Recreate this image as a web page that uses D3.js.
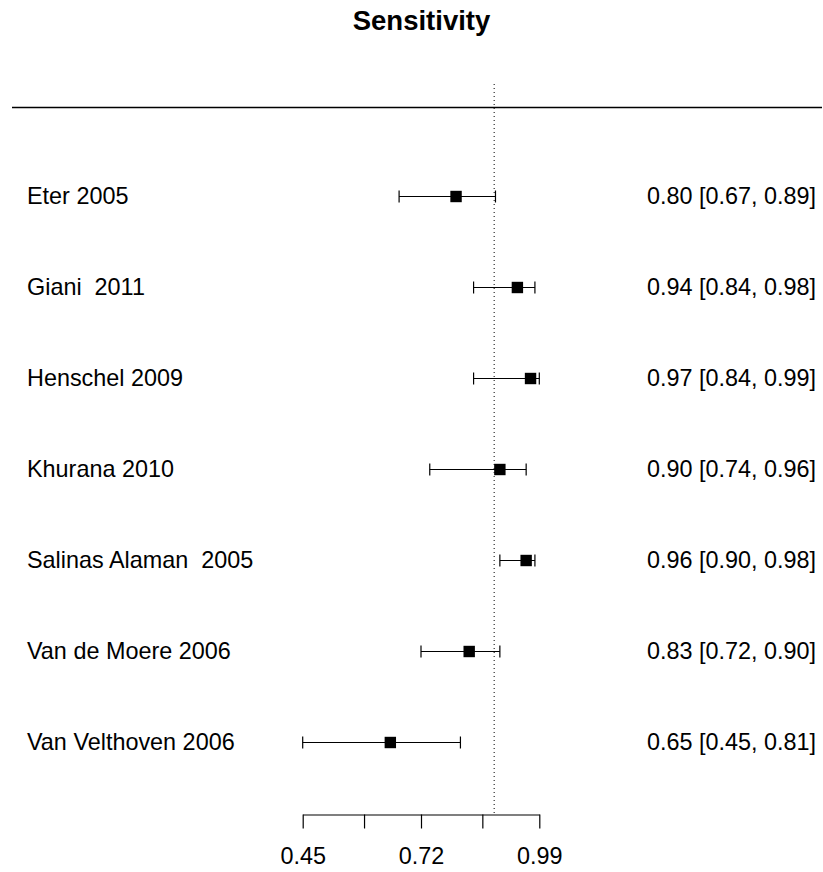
<!DOCTYPE html>
<html><head><meta charset="utf-8">
<script src="https://cdn.jsdelivr.net/npm/d3@7"></script>
<style>
body{margin:0;background:#fff;}
text{font-family:"Liberation Sans",Arial,sans-serif;white-space:pre;}
</style></head>
<body><svg id="c" width="823" height="872"></svg>
<script>
const title = "Sensitivity";
const studies = ["Eter 2005","Giani  2011","Henschel 2009","Khurana 2010","Salinas Alaman  2005","Van de Moere 2006","Van Velthoven 2006"];
const est   = [0.80, 0.94, 0.97, 0.90, 0.96, 0.83, 0.65];
const lower = [0.67, 0.84, 0.84, 0.74, 0.90, 0.72, 0.45];
const upper = [0.89, 0.98, 0.99, 0.96, 0.98, 0.90, 0.81];
const refLine = 0.887;
const tickValues = [0.45, 0.59, 0.72, 0.86, 0.99];
const tickLabels = ["0.45", "", "0.72", "", "0.99"];

const svg = d3.select("#c");
const x = d3.scaleLinear().domain([0.45, 0.99]).range([302.7, 539.3]);
const y = d3.scaleLinear().domain([0, 6]).range([196.5, 742.5]);
const fmt = d3.format(".2f");
const fs = 23.4;

svg.append("text").attr("x", 421.5).attr("y", 30).attr("text-anchor","middle")
  .attr("font-weight","bold").attr("font-size", 27.5).text(title);

svg.append("line").attr("x1",12).attr("x2",822).attr("y1",107.5).attr("y2",107.5)
  .attr("stroke","#000").attr("stroke-width",1.3);

svg.append("line").attr("x1",x(refLine)).attr("x2",x(refLine)).attr("y1",84).attr("y2",813)
  .attr("stroke","#000").attr("stroke-width",1).attr("stroke-dasharray","1,3");

const rows = svg.append("g").selectAll("g").data(studies).join("g");
rows.append("line").attr("x1",(d,i)=>x(lower[i])).attr("x2",(d,i)=>x(upper[i]))
  .attr("y1",(d,i)=>y(i)).attr("y2",(d,i)=>y(i)).attr("stroke","#000").attr("stroke-width",1.2);
rows.append("line").attr("x1",(d,i)=>x(lower[i])).attr("x2",(d,i)=>x(lower[i]))
  .attr("y1",(d,i)=>y(i)-6).attr("y2",(d,i)=>y(i)+6).attr("stroke","#000").attr("stroke-width",1.2);
rows.append("line").attr("x1",(d,i)=>x(upper[i])).attr("x2",(d,i)=>x(upper[i]))
  .attr("y1",(d,i)=>y(i)-6).attr("y2",(d,i)=>y(i)+6).attr("stroke","#000").attr("stroke-width",1.2);
rows.append("rect").attr("x",(d,i)=>x(est[i])-5.7).attr("y",(d,i)=>y(i)-5.7)
  .attr("width",11.4).attr("height",11.4).attr("fill","#000");
rows.append("text").attr("x",27).attr("y",(d,i)=>y(i)+7.8).attr("font-size",fs)
  .attr("xml:space","preserve").text(d=>d);
rows.append("text").attr("x",816).attr("y",(d,i)=>y(i)+7.8).attr("font-size",fs)
  .attr("text-anchor","end")
  .text((d,i)=>`${fmt(est[i])} [${fmt(lower[i])}, ${fmt(upper[i])}]`);

const axis = d3.axisBottom(x).tickValues(tickValues).tickSize(14).tickSizeOuter(0)
  .tickFormat((d,i)=>tickLabels[i]).tickPadding(19);
const ag = svg.append("g").attr("transform","translate(0,814.5)").call(axis);
ag.select(".domain").attr("stroke-width",1.2);
ag.selectAll(".tick line").attr("stroke-width",1.2);
ag.selectAll(".tick text").attr("font-size",fs).attr("font-family","Liberation Sans, Arial, sans-serif");
</script></body></html>
